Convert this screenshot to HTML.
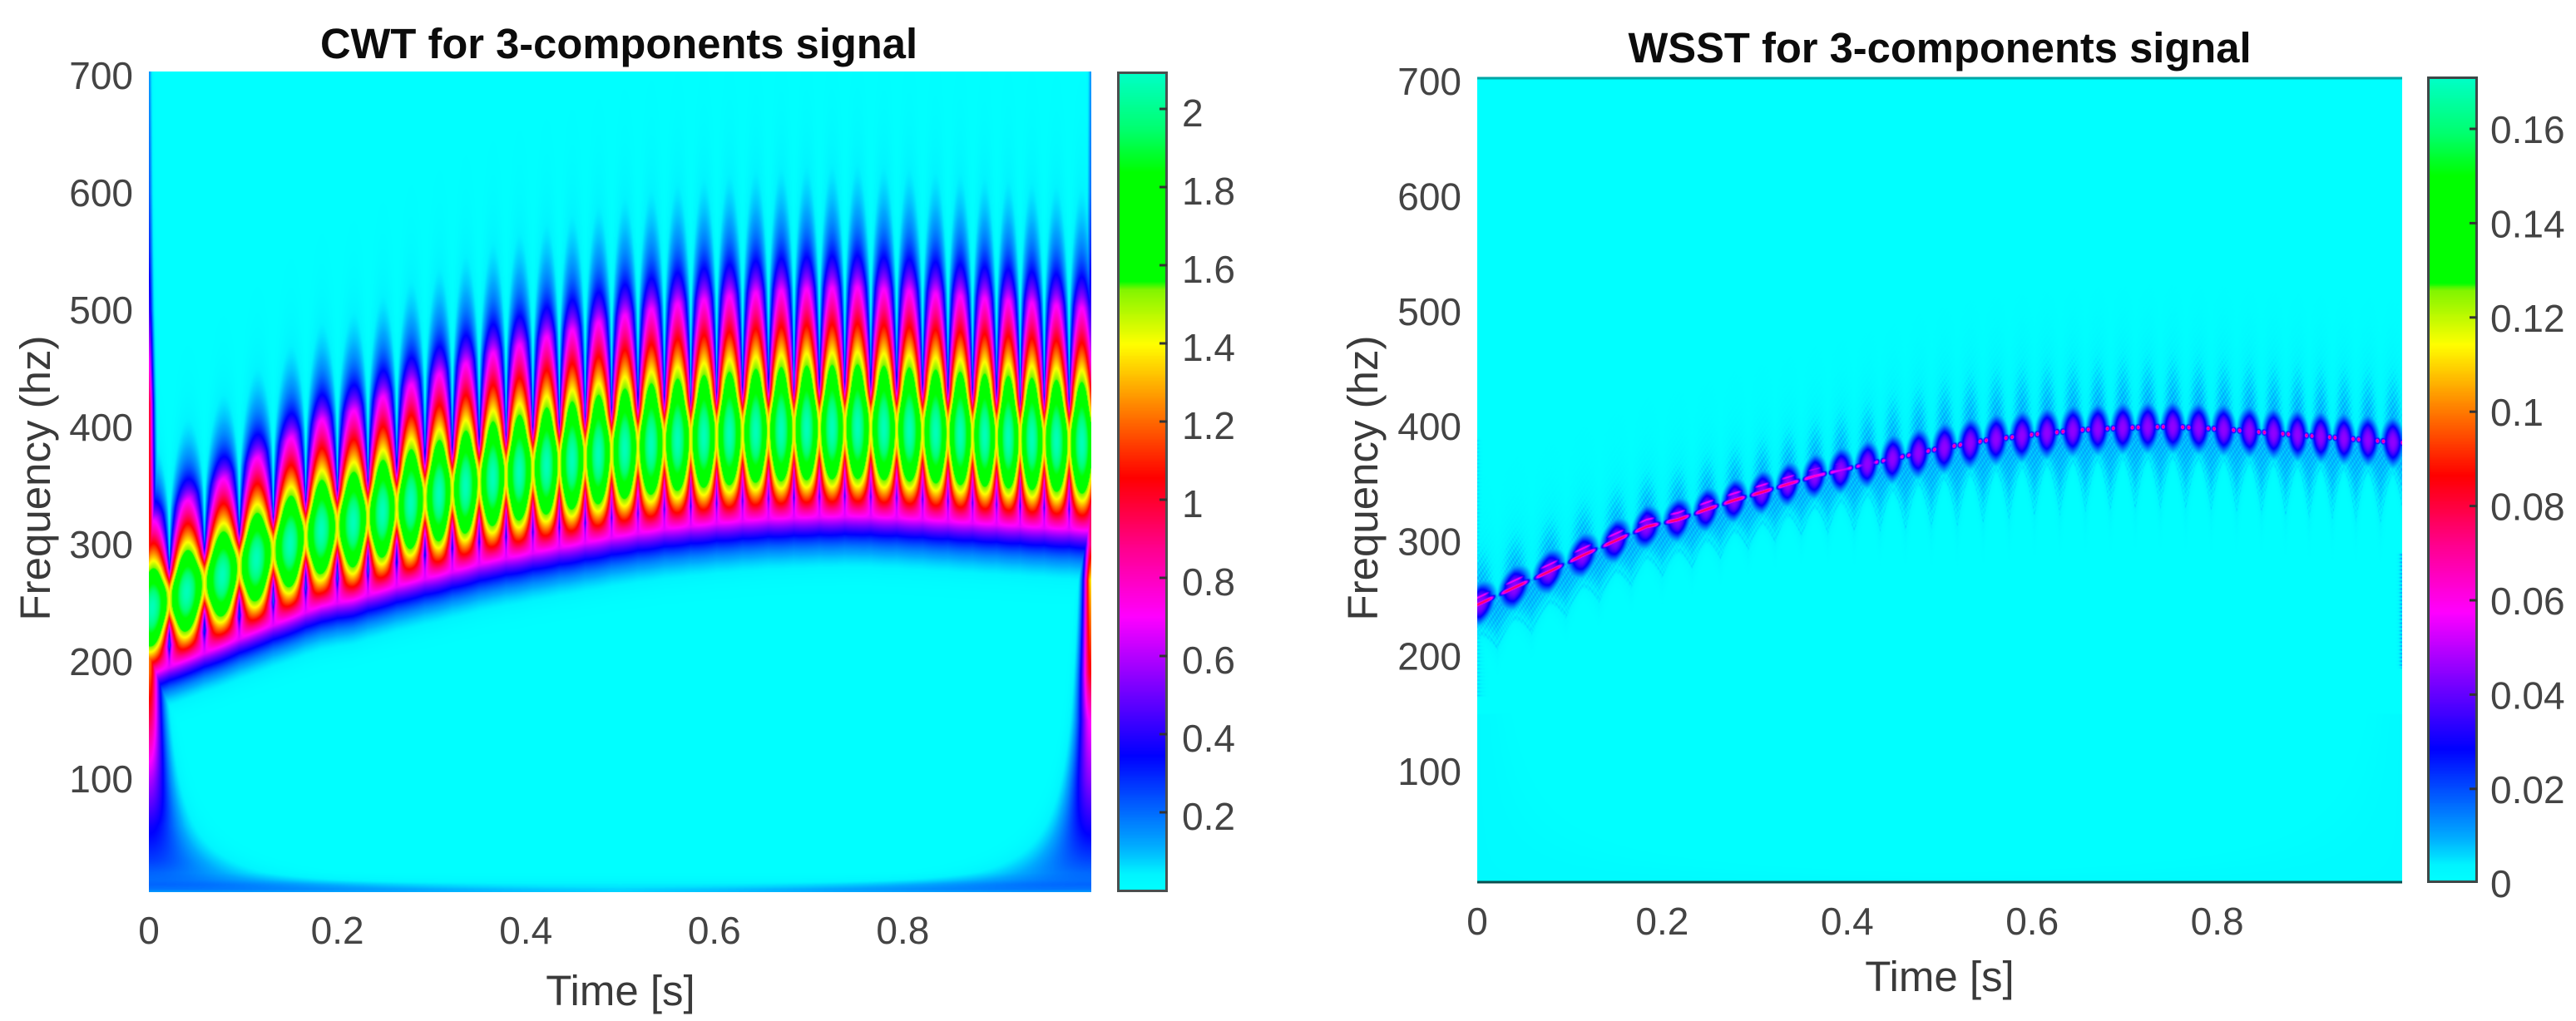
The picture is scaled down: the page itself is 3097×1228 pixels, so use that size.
<!DOCTYPE html>
<html lang="en">
<head>
<meta charset="utf-8">
<title>CWT and WSST for 3-components signal</title>
<style>
html,body{margin:0;padding:0;background:#fff;}
#stage{position:relative;width:3097px;height:1228px;overflow:hidden;background:#fff;font-family:"Liberation Sans",sans-serif;}
canvas{position:absolute;display:block;}
svg{position:absolute;left:0;top:0;}
text{font-family:"Liberation Sans",sans-serif;}
.tick{font-size:46px;fill:#444;}
.axis-label{font-size:51px;fill:#3a3a3a;}
.title{font-size:50.7px;font-weight:bold;fill:#0c0c0c;}
</style>
</head>
<body>
<div id="stage">
  <canvas id="cwtMap" width="1133" height="987" style="left:179px;top:86px"></canvas>
  <canvas id="cwtBar" width="59" height="985" style="left:1344px;top:87px"></canvas>
  <canvas id="wsstMap" width="1112" height="968" style="left:1776px;top:93px"></canvas>
  <canvas id="wsstBar" width="59" height="968" style="left:2919px;top:93px"></canvas>
  <svg id="overlay" width="3097" height="1228" viewBox="0 0 3097 1228">
    <text class="title" x="744" y="70" text-anchor="middle">CWT for 3-components signal</text>
    <text class="title" x="2332" y="75" text-anchor="middle">WSST for 3-components signal</text>
    <text class="axis-label" x="746" y="1209" text-anchor="middle">Time [s]</text>
    <text class="axis-label" x="2332" y="1192" text-anchor="middle">Time [s]</text>
    <text class="axis-label" transform="translate(60,575) rotate(-90)" text-anchor="middle">Frequency (hz)</text>
    <text class="axis-label" transform="translate(1656,575) rotate(-90)" text-anchor="middle">Frequency (hz)</text>
    <rect x="1344.5" y="87.5" width="58" height="984" fill="none" stroke="#4a4f4f" stroke-width="3"/>
    <rect x="2919.5" y="93.5" width="58" height="967" fill="none" stroke="#3d4747" stroke-width="3"/>
    <line x1="1776" x2="2888" y1="94" y2="94" stroke="#00a5a5" stroke-width="3"/>
    <line x1="1776" x2="2888" y1="1061" y2="1061" stroke="#0b4f4f" stroke-width="3"/>
  </svg>
</div>
<script>
// ---- shared chart data ----
const xTicks = [0, 0.2, 0.4, 0.6, 0.8];
const xTickLabels = ['0', '0.2', '0.4', '0.6', '0.8'];
const yTicks = [100, 200, 300, 400, 500, 600, 700];
const yTickLabels = ['100', '200', '300', '400', '500', '600', '700'];
const cwtBarTicks = [0.2, 0.4, 0.6, 0.8, 1, 1.2, 1.4, 1.6, 1.8, 2];
const cwtBarLabels = ['0.2', '0.4', '0.6', '0.8', '1', '1.2', '1.4', '1.6', '1.8', '2'];
const wsstBarTicks = [0, 0.02, 0.04, 0.06, 0.08, 0.1, 0.12, 0.14, 0.16];
const wsstBarLabels = ['0', '0.02', '0.04', '0.06', '0.08', '0.1', '0.12', '0.14', '0.16'];

// Instantaneous-frequency ridge (s, Hz)
const ridgeTimes = [0, .04, .078, .114, .15, .183, .217, .248, .278, .308, .336, .365, .393, .422, .449, .5, .55, .6, .65, .7, .75, .8, .85, .9, .95, 1];
const ridgeFreqs = [245, 260, 274, 288, 301, 313, 319, 328, 336, 343, 350, 357, 362, 367.5, 372, 381, 388, 393, 397, 399, 400, 398, 395, 392, 389, 386];
// Times of the beat lobes along the ridge (s)
const lobeTimes = [.0035, .04, .078, .114, .15, .183, .217, .248, .278, .308, .336, .365, .393, .422, .449, .477, .505, .533, .561, .589, .616, .644, .671, .698, .725, .752, .780, .807, .835, .861, .887, .912, .937, .963, .99];
// CWT peak magnitude on a lobe
const cwtPeak = [2.07];
// CWT boundary-effect magnitude versus frequency
const edgeFreqs = [0, 10, 30, 60, 100, 150, 190, 240, 270, 300, 350, 420, 450, 500, 550, 600, 700];
const edgeLeftAmps = [.08, .16, .26, .37, .6, .95, 1.2, 1.3, 1.25, 1.1, 1.05, 1.0, .75, .42, .3, .22, .15];
const edgeRightAmps = [.08, .16, .25, .38, .55, .72, 1.05, 1.25, 1.38, .9, 1.0, 1.0, .75, .45, .3, .2, .15];
// CWT low-frequency strip along the bottom
const bottomFreqs = [3, 6, 10, 14, 20];
const bottomVals = [.02, .06, .05, .02, 0];
// WSST magnitudes: diffuse lobe, ridge streak, halo
const wsstLobeLevel = [0.045];
const wsstStreakLevel = [0.078];
const wsstHaloLevel = [0.012];

// Colormap stops: position, r, g, b
const cmapStops = [
  [0, 0, 255, 255], [.02, 0, 245, 255], [.056, 0, 170, 255], [.107, 0, 90, 255], [.165, 0, 0, 255],
  [.25, 125, 0, 255], [.335, 255, 0, 255], [.42, 255, 0, 140], [.505, 255, 0, 0], [.59, 255, 130, 0],
  [.668, 255, 255, 0], [.735, 130, 245, 0], [.745, 0, 255, 0], [.878, 0, 255, 0], [.93, 0, 255, 110], [1, 0, 255, 200]
];

// ---- axis functions ----
const cwtAxis = {
  left: 179, top: 86, w: 1133, h: 987,
  xOf: t => 179 + t * 1133,
  yOf: f => 937 - (f - 100) * 1.41,
  fOf: y => 100 + (937 - y) / 1.41,
  barY: v => 131 + (2 - v) * 470,
  vMax: 2.094
};
const wsstAxis = {
  left: 1776, top: 93, w: 1112, h: 968,
  xOf: t => 1776 + t * 1112,
  yOf: f => 928 - (f - 100) * 1.383,
  fOf: y => 100 + (928 - y) / 1.383,
  barY: v => 155 + (0.16 - v) * 5670,
  vMax: 0.171
};

// ---- helpers ----
function interp(xs, ys, x) {
  if (x <= xs[0]) return ys[0];
  const n = xs.length - 1;
  if (x >= xs[n]) return ys[n];
  let lo = 0, hi = n;
  while (hi - lo > 1) { const m = (lo + hi) >> 1; if (xs[m] <= x) lo = m; else hi = m; }
  return ys[lo] + (ys[hi] - ys[lo]) * (x - xs[lo]) / (xs[hi] - xs[lo]);
}
function smooth(a, b, x) {
  const s = Math.min(1, Math.max(0, (x - a) / (b - a)));
  return s * s * (3 - 2 * s);
}
const LUT = new Uint8Array(1024 * 3);
(function () {
  for (let i = 0; i < 1024; i++) {
    const p = i / 1023;
    let k = 0;
    while (k < cmapStops.length - 2 && cmapStops[k + 1][0] < p) k++;
    const a = cmapStops[k], b = cmapStops[k + 1];
    const s = Math.min(1, Math.max(0, (p - a[0]) / (b[0] - a[0])));
    for (let c = 0; c < 3; c++) LUT[i * 3 + c] = Math.round(a[c + 1] + (b[c + 1] - a[c + 1]) * s);
  }
})();
function columnInfo(t) {
  const L = lobeTimes, n = L.length;
  let k = 0;
  while (k < n - 2 && L[k + 1] <= t) k++;
  const T = L[k + 1] - L[k];
  const frac = (t - L[k]) / T;
  const phi = 2 * Math.PI * (k + frac);
  const dt = frac < .5 ? (t - L[k]) : (t - L[k + 1]);
  return { T: T, phi: phi, dt: Math.abs(dt), env: Math.abs(Math.cos(phi / 2)) };
}
function paintMap(id, axis, fn) {
  const cv = document.getElementById(id), ctx = cv.getContext('2d');
  const W = cv.width, H = cv.height, img = ctx.createImageData(W, H), d = img.data;
  const freqRow = new Float64Array(H);
  for (let y = 0; y < H; y++) freqRow[y] = Math.max(1, axis.fOf(axis.top + y + .5));
  for (let x = 0; x < W; x++) {
    const t = (x + .5) / W;
    const col = columnInfo(t);
    col.t = t;
    col.fr = interp(ridgeTimes, ridgeFreqs, t);
    for (let y = 0; y < H; y++) {
      const v = fn(col, freqRow[y]);
      let i = Math.round(v / axis.vMax * 1023);
      if (i < 0) i = 0; else if (i > 1023) i = 1023;
      const o = (y * W + x) * 4;
      d[o] = LUT[i * 3]; d[o + 1] = LUT[i * 3 + 1]; d[o + 2] = LUT[i * 3 + 2]; d[o + 3] = 255;
    }
  }
  ctx.putImageData(img, 0, 0);
}
function paintBar(id) {
  const cv = document.getElementById(id), ctx = cv.getContext('2d');
  const H = cv.height;
  for (let y = 0; y < H; y++) {
    const i = Math.round((1 - y / (H - 1)) * 1023);
    ctx.fillStyle = 'rgb(' + LUT[i * 3] + ',' + LUT[i * 3 + 1] + ',' + LUT[i * 3 + 2] + ')';
    ctx.fillRect(0, y, cv.width, 1);
  }
}

// ---- CWT field: ridge + beat lobes + boundary effects ----
function cwtValue(c, f) {
  const fr = c.fr, s = Math.pow(fr / 260, .6);
  const psi = Math.min(1, c.dt / (c.T / 2));
  const core = Math.exp(-.4 * psi * psi);
  let G, P;
  if (f >= fr) {
    const u = fr / f, d = f - fr, rel = d / fr;
    G = Math.exp(.85 * (16 * Math.log(u) + 5.333 * (1 - u * u * u)));
    if (rel > .3) G *= Math.exp(-(rel - .3) * 4.5);
    const q = d / (24 * s);
    const w = Math.exp(-q * q * q);
    const E = Math.pow(c.env, .55 + 3 * Math.max(0, rel - .12));
    P = w * core + (1 - w) * E;
  } else {
    const d = (fr - f) / s, z = d / 48, r = d / 38, q = d / 24;
    G = Math.exp(-z * z / 2 - .15 * z * z * z * z);
    const w = Math.exp(-q * q * q);
    const floor = .08 + .2 * smooth(.2, .5, c.t);
    const rhoL = Math.min(.95, Math.max(floor, .67 * (r * r - 1)));
    const E = Math.pow(c.env, .55);
    P = w * core + (1 - w) * (rhoL + (1 - rhoL) * E);
  }
  const sig = cwtPeak[0] * G * P;
  const dl = c.t * f / 2, dr = (1 - c.t) * f / 2;
  let edge = 0;
  if (dl < 3) edge = Math.max(edge, interp(edgeFreqs, edgeLeftAmps, f) * Math.exp(-dl * dl));
  if (dr < 3) edge = Math.max(edge, interp(edgeFreqs, edgeRightAmps, f) * Math.exp(-dr * dr));
  let v = Math.max(sig, edge);
  if (f < 20) v += interp(bottomFreqs, bottomVals, f);
  return v;
}

// ---- WSST field: diffuse lobes, ridge streaks and speckled halo ----
function wsstValue(c, f) {
  const d = f - c.fr, ad = Math.abs(d), T = c.T, t = c.t, dt = c.dt;
  const late = smooth(.3, .55, t);
  const g = dt / (T / 2);
  let v = 0;
  if (ad < 130) {
    const p = dt / (.45 * T), h = ad / (18 + 3 * late);
    const D = Math.pow(p * p + h * h, .75) + .25 * (p + h);
    const lobe = wsstLobeLevel[0] * Math.exp(-D * D);
    const r1 = dt / (.42 * T), r2 = (dt - .38 * T) / (.09 * T);
    const st = (1 - late) * Math.exp(-Math.pow(r1, 6)) + late * Math.exp(-r2 * r2);
    const s1 = wsstStreakLevel[0] * Math.exp(-(d / 2.4) * (d / 2.4)) * st;
    const d2 = (d - 6) / 1.8, r3 = dt / (.3 * T);
    const s2 = .06 * Math.exp(-d2 * d2) * (1 - late) * Math.exp(-r3 * r3 * r3 * r3);
    const rip = .5 + .5 * Math.sin(f * 1.257 + t * 300) * Math.sin(t * 1570 + f * .2);
    let halo;
    if (d < 0) {
      const hmax = 45 + 25 * late;
      const H = 26 + (hmax - 26) * Math.pow(g, 1.5);
      const a = ad / H, b = (ad - H) / 4.5;
      halo = wsstHaloLevel[0] * Math.max(Math.exp(-a * a * a) * (.45 + .55 * rip), .55 * Math.exp(-b * b) * (.5 + .5 * rip));
    } else {
      const a = d / (42 + 15 * late), b = d / 75;
      halo = wsstHaloLevel[0] * Math.exp(-a * a) * (.65 + .35 * Math.cos(c.phi)) * (.45 + .55 * rip) + .0024 * Math.exp(-b * b) * Math.abs(Math.cos(c.phi / 2)) * rip;
    }
    v = Math.max(lobe, s1, s2, halo);
  }
  const rip2 = .6 + .4 * Math.sin(f * 1.9);
  const dl = t * f / 1.2;
  if (dl < 3 && f > 165 && f < 390) v = Math.max(v, .006 * Math.exp(-dl * dl) * rip2);
  const dr = (1 - t) / .0035;
  if (dr < 3 && f > 190 && f < 290) v = Math.max(v, .011 * Math.exp(-dr * dr) * rip2);
  const corner = Math.min(t, 1 - t) * f / 4;
  if (f < 150 && corner < 3) v = Math.max(v, .0016 * Math.exp(-corner * corner));
  return v;
}

paintMap('cwtMap', cwtAxis, cwtValue);
paintMap('wsstMap', wsstAxis, wsstValue);
paintBar('cwtBar');
paintBar('wsstBar');

// ---- axes, ticks and labels ----
const svg = document.getElementById('overlay');
const NS = 'http://www.w3.org/2000/svg';
function addText(x, y, str, anchor) {
  const el = document.createElementNS(NS, 'text');
  el.setAttribute('class', 'tick');
  el.setAttribute('x', x);
  el.setAttribute('y', y);
  el.setAttribute('text-anchor', anchor);
  el.textContent = str;
  svg.appendChild(el);
  return el;
}
function addBarTick(x1, x2, y) {
  const el = document.createElementNS(NS, 'line');
  el.setAttribute('x1', x1);
  el.setAttribute('x2', x2);
  el.setAttribute('y1', y);
  el.setAttribute('y2', y);
  el.setAttribute('stroke', '#333');
  el.setAttribute('stroke-width', '3');
  svg.appendChild(el);
  return el;
}
xTicks.forEach(function (t, i) {
  const a = addText(cwtAxis.xOf(t), 1135, xTickLabels[i], 'middle');
  
  
  const b = addText(wsstAxis.xOf(t), 1124, xTickLabels[i], 'middle');
  
  
});
yTicks.forEach(function (f, i) {
  const a = addText(160, cwtAxis.yOf(f) + 16, yTickLabels[i], 'end');
  
  
  const b = addText(1757, wsstAxis.yOf(f) + 16, yTickLabels[i], 'end');
  
  
});
cwtBarTicks.forEach(function (v, i) {
  const y = cwtAxis.barY(v);
  const m = addBarTick(1394, 1403, y);
  
  
  const a = addText(1421, y + 21, cwtBarLabels[i], 'start');
  
  
});
wsstBarTicks.forEach(function (v, i) {
  const y = wsstAxis.barY(v);
  if (v > 0) {
    const m = addBarTick(2969, 2978, y);
    
    
  }
  const a = addText(2994, y + 17, wsstBarLabels[i], 'start');
  
  
});
</script>
</body>
</html>
